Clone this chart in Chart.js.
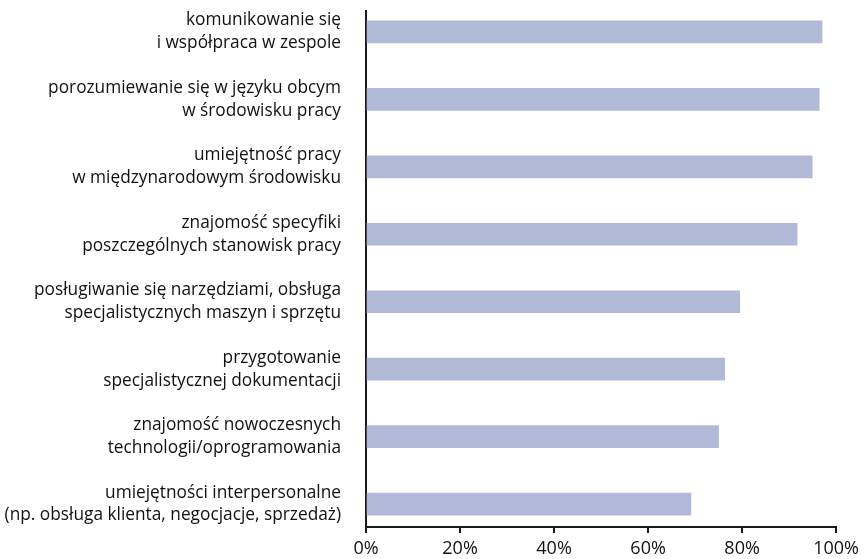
<!DOCTYPE html>
<html>
<head>
<meta charset="utf-8">
<script src="https://cdn.jsdelivr.net/npm/chart.js@4/dist/chart.umd.min.js"></script>
<style>
  html, body { margin: 0; padding: 0; background: #fff; }
  #wrap { width: 864px; height: 559px; position: relative; }
</style>
</head>
<body>
<div id="wrap"><canvas id="chartCanvas"></canvas></div>
<script>
// dane (w %)
const categories = [
  ["komunikowanie się", "i współpraca w zespole"],
  ["porozumiewanie się w języku obcym", "w środowisku pracy"],
  ["umiejętność pracy", "w międzynarodowym środowisku"],
  ["znajomość specyfiki", "poszczególnych stanowisk pracy"],
  ["posługiwanie się narzędziami, obsługa", "specjalistycznych maszyn i sprzętu"],
  ["przygotowanie", "specjalistycznej dokumentacji"],
  ["znajomość nowoczesnych", "technologii/oprogramowania"],
  ["umiejętności interpersonalne", "(np. obsługa klienta, negocjacje, sprzedaż)"]
];
const values = [97.0, 96.4, 94.9, 91.7, 79.5, 76.3, 75.0, 69.1];
const xTicks = [0, 20, 40, 60, 80, 100];

const barColor = "#b0bad6";
const axisColor = "#1a1a1a";
const fontFamily = "'Open Sans', sans-serif";

const ctx = document.getElementById("chartCanvas").getContext("2d");

new Chart(ctx, {
  type: "bar",
  data: {
    datasets: [{
      data: values.map((v, i) => ({ x: v, y: i })),
      backgroundColor: barColor,
      borderWidth: 0,
      barThickness: 22
    }]
  },
  options: {
    indexAxis: "y",
    responsive: true,
    maintainAspectRatio: false,
    animation: false,
    layout: { padding: { top: 11, right: 7, bottom: 0, left: 0 } },
    plugins: {
      legend: { display: false },
      tooltip: { enabled: false }
    },
    scales: {
      x: {
        type: "linear",
        min: 0,
        max: 100,
        afterBuildTicks: (scale) => { scale.ticks = xTicks.map(v => ({ value: v })); },
        afterFit: (scale) => { scale.height = 32; },
        grid: { display: true, drawOnChartArea: false, drawTicks: true, tickLength: 6, color: axisColor, lineWidth: 2 },
        border: { display: true, color: axisColor, width: 2 },
        ticks: {
          color: "#111",
          padding: 5,
          font: { family: fontFamily, size: 18 },
          callback: (v) => v + "%"
        }
      },
      y: {
        type: "linear",
        reverse: true,
        offset: false,
        bounds: "data",
        min: -0.31,
        max: 7.34,
        afterBuildTicks: (scale) => { scale.ticks = categories.map((_, i) => ({ value: i })); },
        afterFit: (scale) => {
          scale.width = 366;
          scale.paddingTop = 0;
          scale.paddingBottom = 0;
        },
        grid: { display: false, drawTicks: false, offset: false },
        border: { display: true, color: axisColor, width: 2 },
        ticks: {
          color: "#111",
          padding: 25,
          font: { family: fontFamily, size: 17.3, lineHeight: 1.32 },
          callback: (v) => categories[v]
        }
      }
    }
  }
});
</script>
</body>
</html>
